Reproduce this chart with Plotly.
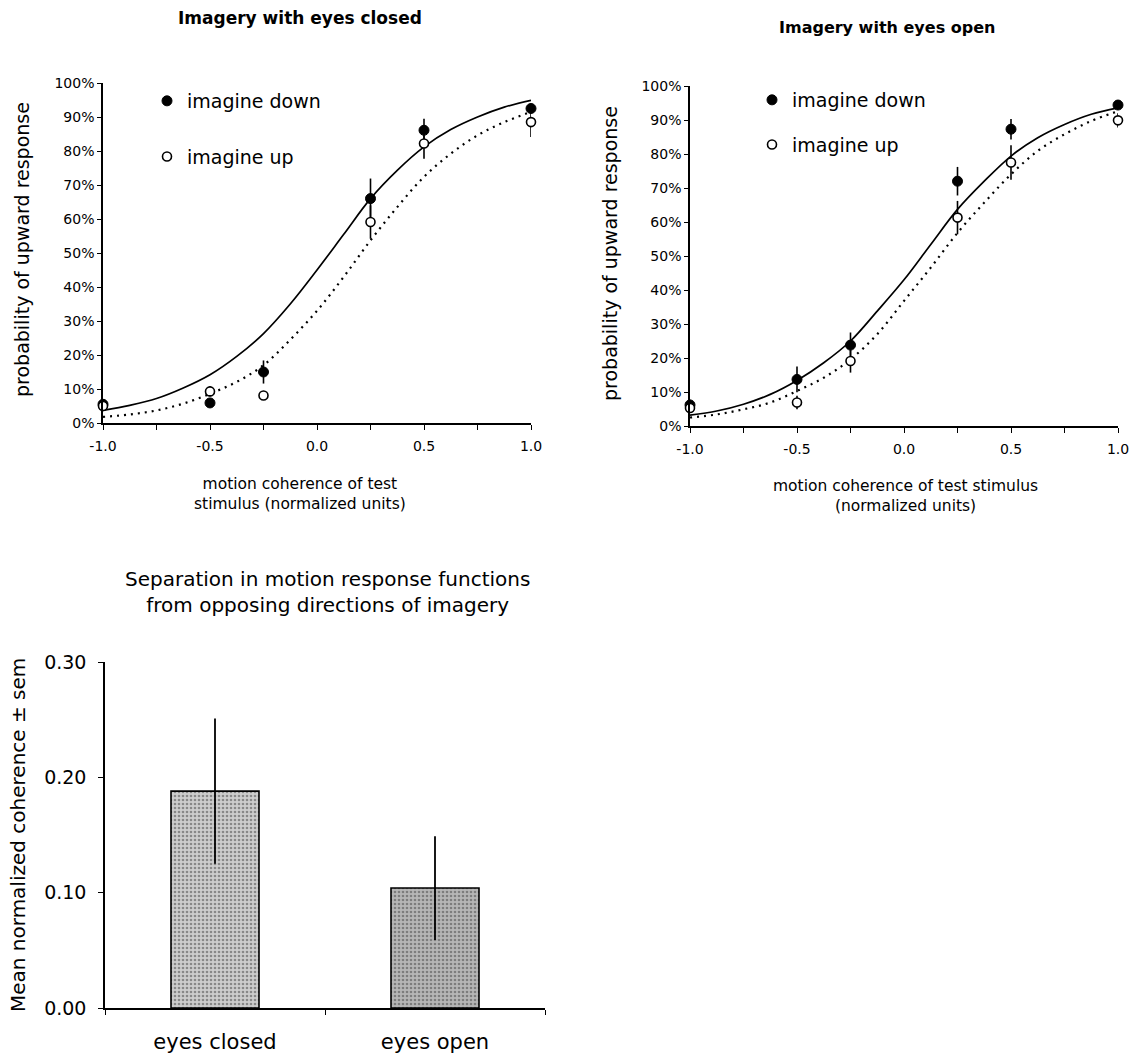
import plotly.graph_objects as go

# ---------------- data ----------------
coherence = [-1.0, -0.5, -0.25, 0.25, 0.5, 1.0]

closed_down = [5.5, 5.9, 15.0, 66.0, 86.1, 92.5]
closed_down_err = [1.5, 1.0, 3.4, 5.9, 3.4, 1.5]
closed_up = [5.0, 9.3, 8.1, 59.1, 82.2, 88.5]
closed_up_err = [1.5, 1.5, 1.0, 4.9, 4.5, 4.4]

open_down = [6.2, 13.7, 23.8, 72.0, 87.3, 94.4]
open_down_err = [1.5, 3.8, 3.7, 4.2, 3.0, 1.4]
open_up = [5.3, 6.9, 19.1, 61.3, 77.5, 89.9]
open_up_err = [1.5, 2.0, 3.4, 4.9, 5.1, 2.1]

fit_x = [-1.0, -0.875, -0.75, -0.625, -0.5, -0.375, -0.25, -0.125, 0.0,
         0.125, 0.25, 0.375, 0.5, 0.625, 0.75, 0.875, 1.0]
closed_fit_down = [3.7, 5.2, 7.2, 10.3, 14.2, 19.6, 26.3, 35.0, 45.0,
                   55.5, 66.0, 74.3, 81.2, 86.3, 90.0, 92.9, 94.9]
closed_fit_up = [1.8, 2.5, 3.7, 5.7, 8.6, 12.1, 17.0, 24.5, 33.0,
                 43.0, 53.7, 63.5, 72.4, 79.2, 84.6, 88.5, 91.5]
open_fit_down = [3.2, 4.4, 6.4, 9.3, 13.4, 18.6, 25.0, 33.8, 43.0,
                 53.4, 63.7, 72.0, 79.4, 84.8, 88.7, 91.7, 93.6]
open_fit_up = [2.5, 3.4, 4.9, 6.9, 10.3, 14.2, 19.6, 27.0, 36.8,
               46.6, 56.8, 65.7, 74.0, 80.9, 85.8, 89.7, 92.6]

x_tickvals = [-1.0, -0.5, 0.0, 0.5, 1.0]
x_ticktext = ["-1.0", "-0.5", "0.0", "0.5", "1.0"]

conditions = ["eyes closed", "eyes open"]
separation = [0.188, 0.104]
separation_sem = [0.063, 0.045]

FONT = "DejaVu Sans"
W, H = 1138, 1055


def px(x):
    return x / W


def py(y):
    return 1 - y / H


fig = go.Figure()


def add_panel(xa, ya, legend, down, down_err, up, up_err, fit_down, fit_up):
    fig.add_trace(go.Scatter(x=fit_x, y=fit_down, mode="lines",
                             line=dict(color="black", width=1.7, shape="spline"),
                             xaxis=xa, yaxis=ya, showlegend=False, hoverinfo="skip", cliponaxis=False))
    fig.add_trace(go.Scatter(x=fit_x, y=fit_up, mode="lines",
                             line=dict(color="black", width=2.2, dash="2px,5px", shape="spline"),
                             xaxis=xa, yaxis=ya, showlegend=False, hoverinfo="skip", cliponaxis=False))
    fig.add_trace(go.Scatter(x=coherence, y=down, mode="markers", name="imagine down",
                             marker=dict(color="black", size=10, line=dict(color="black", width=1)),
                             error_y=dict(type="data", array=down_err, color="black", thickness=1.6, width=0),
                             xaxis=xa, yaxis=ya, legend=legend, legendgroup=legend + "a", cliponaxis=False))
    fig.add_trace(go.Scatter(x=coherence, y=up, mode="markers", name="imagine up",
                             marker=dict(color="white", size=9, line=dict(color="black", width=1.6)),
                             error_y=dict(type="data", array=up_err, color="black", thickness=1.6, width=0),
                             xaxis=xa, yaxis=ya, legend=legend, legendgroup=legend + "b", cliponaxis=False))


add_panel("x", "y", "legend", closed_down, closed_down_err, closed_up, closed_up_err,
          closed_fit_down, closed_fit_up)
add_panel("x2", "y2", "legend2", open_down, open_down_err, open_up, open_up_err,
          open_fit_down, open_fit_up)

fig.add_trace(go.Bar(x=conditions, y=separation, width=0.4,
                     marker=dict(color=["#cdcdcd", "#b6b6b6"], line=dict(color="black", width=1.6),
                                 pattern=dict(shape=".", fillmode="overlay",
                                              bgcolor=["#cdcdcd", "#b6b6b6"],
                                              fgcolor=["#8c8c8c", "#7c7c7c"], size=4, solidity=0.35)),
                     error_y=dict(type="data", array=separation_sem, color="black", thickness=1.8, width=0),
                     xaxis="x3", yaxis="y3", showlegend=False))

tickfont = dict(family=FONT, size=14, color="black")
common_x = dict(range=[-1, 1], showline=True, linecolor="black", linewidth=1.5, ticks="outside",
                ticklen=5, tickcolor="black", tickmode="array", tickvals=x_tickvals, ticktext=x_ticktext,
                minor=dict(dtick=0.25, tick0=-1, ticks="outside", ticklen=5, tickcolor="black"),
                showgrid=False, zeroline=False, tickfont=tickfont, automargin=False,
                ticklabelstandoff=4)
common_y = dict(range=[0, 100], showline=True, linecolor="black", linewidth=1.5, ticks="outside",
                ticklen=4, tickcolor="black", dtick=10, ticksuffix="%", showgrid=False,
                zeroline=False, tickfont=tickfont, automargin=False)

legend_common = dict(font=dict(family=FONT, size=19, color="black"), bgcolor="rgba(0,0,0,0)",
                     itemwidth=30, xanchor="left", yanchor="top")

fig.update_layout(
    template="none",
    width=W, height=H, margin=dict(l=0, r=0, t=0, b=0, pad=0, autoexpand=False),
    paper_bgcolor="white", plot_bgcolor="white",
    font=dict(family=FONT, color="black"),
    xaxis=dict(domain=[px(103), px(531)], anchor="y", **common_x),
    yaxis=dict(domain=[py(423), py(83)], anchor="x", **common_y),
    xaxis2=dict(domain=[px(690), px(1118)], anchor="y2", **common_x),
    yaxis2=dict(domain=[py(426), py(86)], anchor="x2", **common_y),
    xaxis3=dict(domain=[px(105), px(545)], anchor="y3", showline=True, linecolor="black", linewidth=1.5,
                ticks="outside", ticklen=5, tickcolor="black", tickson="boundaries",
                range=[-0.5, 1.5], showgrid=False, automargin=False, ticklabelstandoff=14,
                tickfont=dict(family=FONT, size=21, color="black")),
    yaxis3=dict(domain=[py(1008), py(662)], anchor="x3", range=[0, 0.3], dtick=0.1, tickformat=".2f",
                showline=True, linecolor="black", linewidth=1.5, ticks="outside", ticklen=5,
                tickcolor="black", showgrid=False, zeroline=False, automargin=False,
                ticklabelstandoff=8, tickfont=dict(family=FONT, size=19, color="black")),
    legend=dict(x=px(147), y=py(82), tracegroupgap=28, **legend_common),
    legend2=dict(x=px(752), y=py(81), tracegroupgap=17, **legend_common),
    showlegend=True,
)

ann = []


def text(x, y, s, size, bold=False, angle=0):
    if bold:
        s = "<b>" + s + "</b>"
    ann.append(dict(x=px(x), y=py(y), xref="paper", yref="paper", text=s, showarrow=False,
                    xanchor="center", yanchor="middle", textangle=angle,
                    font=dict(family=FONT, size=size, color="black")))


text(300, 18, "Imagery with eyes closed", 17, bold=True)
text(887, 27, "Imagery with eyes open", 16, bold=True)
text(22, 250, "probability of upward response", 19, angle=-90)
text(610, 254, "probability of upward response", 19, angle=-90)
text(300, 494, "motion coherence of test<br>stimulus (normalized units)", 15.5)
text(905, 496, "motion coherence of test stimulus<br>(normalized units)", 15.5)
text(327, 592, "Separation in motion response functions<br>from opposing directions of imagery", 20)
text(18, 835, "Mean normalized coherence ± sem", 20, angle=-90)

fig.update_layout(annotations=ann)

fig.write_html("out.html", config={"displayModeBar": False},
               post_script="document.body.style.margin='0';document.body.style.overflow='hidden';")
